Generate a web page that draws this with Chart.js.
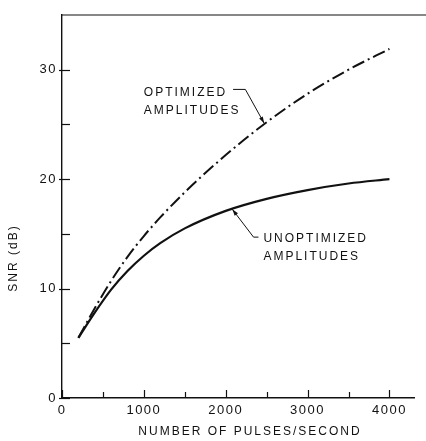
<!DOCTYPE html>
<html>
<head>
<meta charset="utf-8">
<script src="https://cdn.jsdelivr.net/npm/chart.js@4/dist/chart.umd.min.js"></script>
<style>
  html, body { margin: 0; padding: 0; background: #fff; }
  #wrap { width: 426px; height: 441px; }
</style>
</head>
<body>
<div id="wrap"><canvas id="snrChart" width="426" height="441"></canvas></div>
<script>
// Pulse rate (pulses/second)
const pulseRates = [200, 400, 600, 800, 1000, 1200, 1500, 2000, 2500, 3000, 3500, 4000];
// SNR (dB)
const snrUnoptimized = [5.5, 7.8, 9.9, 11.6, 13.0, 14.15, 15.5, 17.1, 18.2, 19.0, 19.6, 20.0];
const snrOptimized   = [5.5, 8.2, 10.7, 12.9, 14.8, 16.5, 18.8, 22.2, 25.2, 27.8, 30.0, 31.9];

// Axis ticks
const xTicks = [0, 500, 1000, 1500, 2000, 2500, 3000, 3500, 4000];
const yTicks = [0, 5, 10, 15, 20, 25, 30];
const xLabelEvery = 1000;
const yLabelEvery = 10;

// Annotation texts and leader points, in data units
const optLabel = ['OPTIMIZED', 'AMPLITUDES'];
const optLabelAt = [1000, 27.9];
const optLeader = [[2090, 28.2], [2240, 28.2], [2470, 25.1]];
const unoptLabel = ['UNOPTIMIZED', 'AMPLITUDES'];
const unoptLabelAt = [2460, 14.6];
const unoptLeader = [[2400, 14.7], [2340, 14.7], [2080, 17.25]];

const INK = '#111';
const FAMILY = '"Liberation Sans", Arial, sans-serif';
const FONT = '12px ' + FAMILY;

const toPoints = (xs, ys) => xs.map((x, i) => ({ x, y: ys[i] }));

const drawArrow = (ctx, x, y, pts) => {
    const p = pts.map(([vx, vy]) => [x.getPixelForValue(vx), y.getPixelForValue(vy)]);
    ctx.beginPath();
    ctx.moveTo(p[0][0], p[0][1]);
    p.slice(1).forEach(q => ctx.lineTo(q[0], q[1]));
    ctx.stroke();
    // arrow head at last point
    const [tx, ty] = p[p.length - 1];
    const [sx, sy] = p[p.length - 2];
    const ang = Math.atan2(ty - sy, tx - sx);
    const len = 7, spread = 0.3;
    ctx.beginPath();
    ctx.moveTo(tx, ty);
    ctx.lineTo(tx - len * Math.cos(ang - spread), ty - len * Math.sin(ang - spread));
    ctx.lineTo(tx - len * Math.cos(ang + spread), ty - len * Math.sin(ang + spread));
    ctx.closePath();
    ctx.fill();
};

const framePlugin = {
    id: 'frame',
    beforeDraw(chart) {
        // tick labels are spaced out like the stencil lettering
        chart.ctx.letterSpacing = '1.5px';
    },
    afterDraw(chart) {
        const { ctx, chartArea: a, scales: { x, y } } = chart;
        ctx.save();
        ctx.letterSpacing = '2px';
        ctx.strokeStyle = INK;
        ctx.fillStyle = INK;
        ctx.lineWidth = 1.2;

        // top border runs out to the edge
        ctx.beginPath();
        ctx.moveTo(a.left, a.top);
        ctx.lineTo(chart.width, a.top);
        ctx.stroke();

        // inward tick marks
        xTicks.forEach(v => {
            const px = Math.round(x.getPixelForValue(v)) + 0.5;
            ctx.beginPath();
            ctx.moveTo(px, a.bottom);
            ctx.lineTo(px, a.bottom - (v % xLabelEvery === 0 ? 8 : 6));
            ctx.stroke();
        });
        yTicks.forEach(v => {
            const py = Math.round(y.getPixelForValue(v)) + 0.5;
            const major = v % yLabelEvery === 0;
            ctx.beginPath();
            ctx.moveTo(a.left - (major ? 3 : 0), py);
            ctx.lineTo(a.left + 8, py);
            ctx.stroke();
        });

        // axis titles
        ctx.font = FONT;
        ctx.textBaseline = 'middle';
        ctx.textAlign = 'center';
        ctx.fillText('NUMBER OF PULSES/SECOND', (a.left + a.right) / 2 + 12, a.bottom + 34);
        ctx.save();
        ctx.translate(14, a.bottom - 140);
        ctx.rotate(-Math.PI / 2);
        ctx.fillText('SNR (dB)', 0, 0);
        ctx.restore();

        // curve labels
        ctx.textAlign = 'left';
        const lineGap = 18;
        const putLabel = (lines, at) => {
            const lx = x.getPixelForValue(at[0]);
            const ly = y.getPixelForValue(at[1]);
            lines.forEach((t, i) => ctx.fillText(t, lx, ly + i * lineGap));
        };
        putLabel(optLabel, optLabelAt);
        putLabel(unoptLabel, unoptLabelAt);

        ctx.lineWidth = 1;
        drawArrow(ctx, x, y, optLeader);
        drawArrow(ctx, x, y, unoptLeader);
        ctx.restore();
    }
};

const ctx = document.getElementById('snrChart').getContext('2d');
new Chart(ctx, {
    type: 'line',
    data: {
        datasets: [
            {
                label: 'Optimized amplitudes',
                data: toPoints(pulseRates, snrOptimized),
                borderColor: INK,
                borderWidth: 2,
                borderDash: [13, 4, 2, 4],
                pointRadius: 0,
                cubicInterpolationMode: 'monotone',
                fill: false
            },
            {
                label: 'Unoptimized amplitudes',
                data: toPoints(pulseRates, snrUnoptimized),
                borderColor: INK,
                borderWidth: 2.2,
                pointRadius: 0,
                cubicInterpolationMode: 'monotone',
                fill: false
            }
        ]
    },
    options: {
        responsive: false,
        animation: false,
        devicePixelRatio: 1,
        layout: { padding: { left: 0, top: 15, right: 12, bottom: 0 } },
        plugins: {
            legend: { display: false },
            tooltip: { enabled: false }
        },
        scales: {
            x: {
                type: 'linear',
                min: 0,
                max: 4300,
                afterBuildTicks: (scale) => { scale.ticks = xTicks.map(v => ({ value: v })); },
                afterFit: (scale) => { scale.height = 43; },
                grid: { display: false, drawTicks: false },
                border: { display: true, color: INK, width: 1.4 },
                ticks: {
                    autoSkip: false,
                    maxRotation: 0,
                    padding: 5,
                    color: INK,
                    font: { family: FAMILY, size: 13 },
                    callback: (v) => (v % xLabelEvery === 0 ? String(v) : '')
                }
            },
            y: {
                type: 'linear',
                min: 0,
                max: 35,
                afterBuildTicks: (scale) => { scale.ticks = yTicks.map(v => ({ value: v })); },
                afterFit: (scale) => { scale.width = 62; },
                grid: { display: false, drawTicks: false },
                border: { display: true, color: INK, width: 1.4 },
                ticks: {
                    autoSkip: false,
                    padding: 5,
                    color: INK,
                    font: { family: FAMILY, size: 13 },
                    callback: (v) => (v % yLabelEvery === 0 ? String(v) : '')
                }
            }
        }
    },
    plugins: [framePlugin]
});
</script>
</body>
</html>
